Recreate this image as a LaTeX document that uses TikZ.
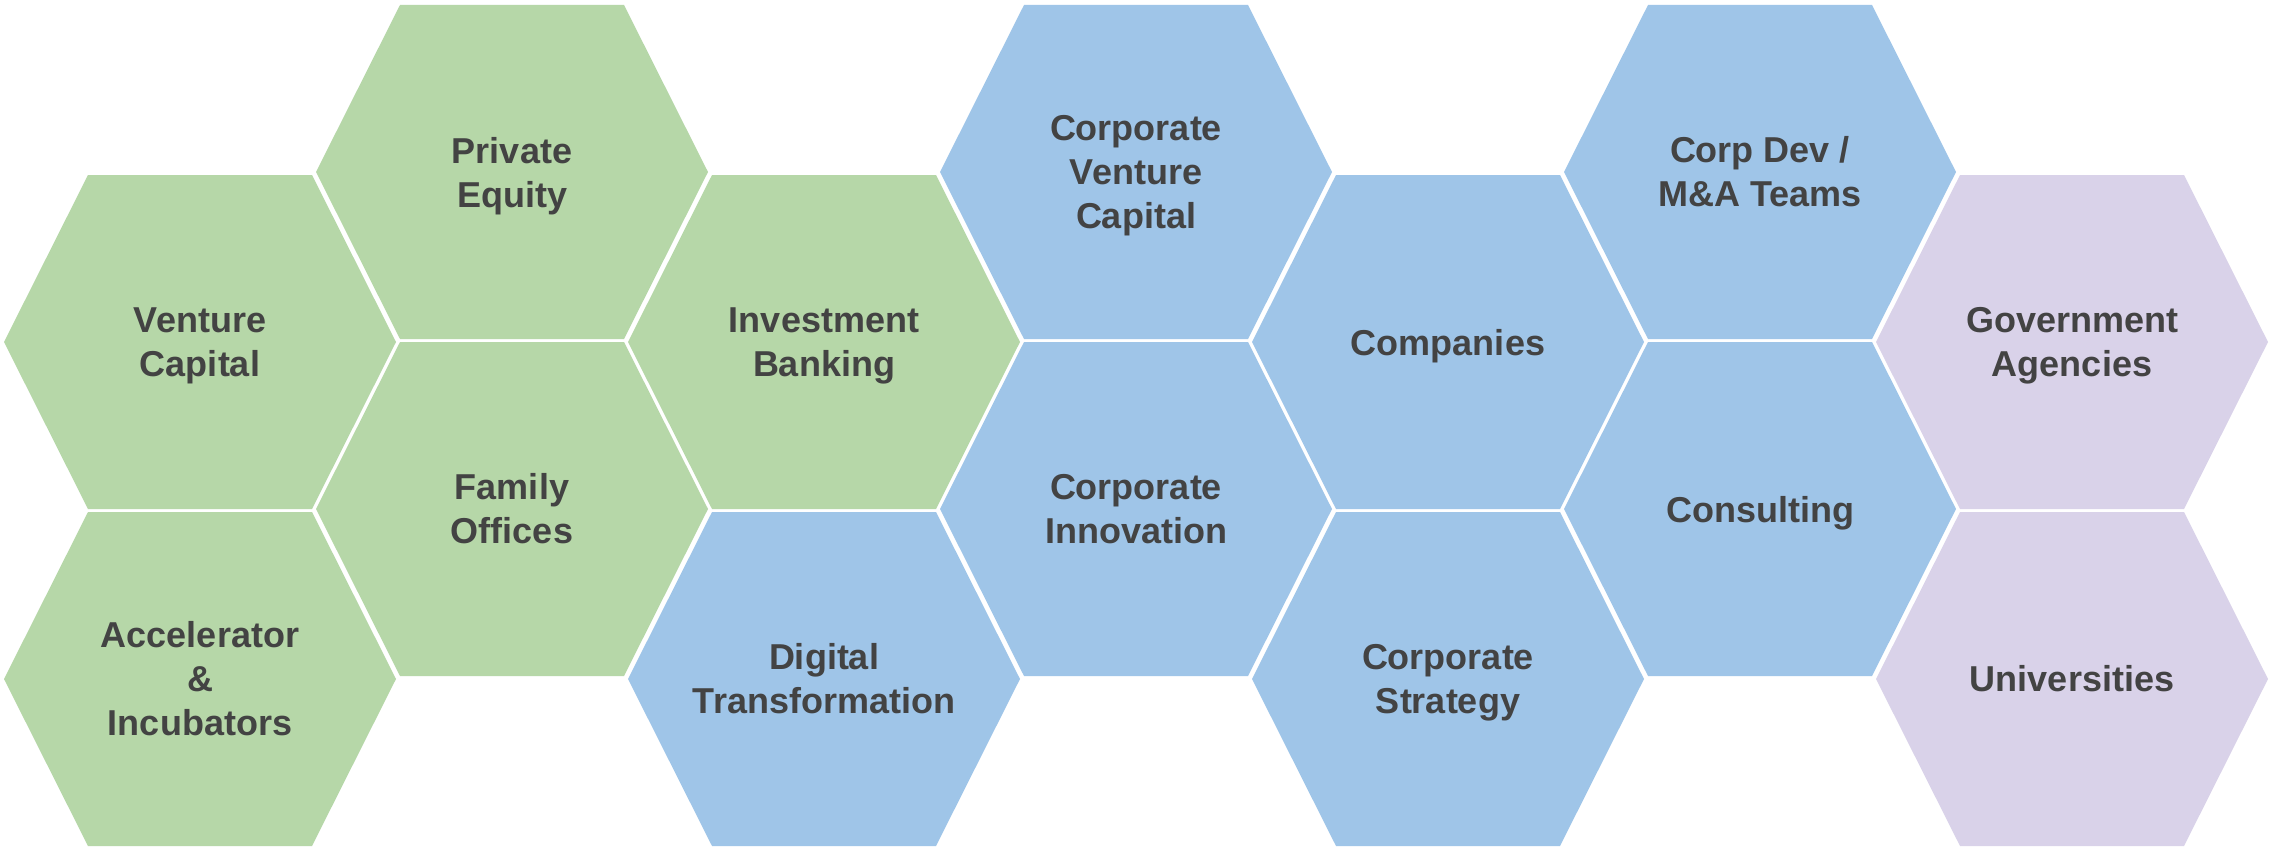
\documentclass[tikz,border=0pt]{standalone}
\usepackage{fontspec}
\setmainfont{Liberation Sans}
\definecolor{hexgreen}{HTML}{B6D7A8}
\definecolor{hexblue}{HTML}{9FC5E8}
\definecolor{hexpurple}{HTML}{D9D2E9}
\definecolor{txtgray}{HTML}{434343}
\newcommand{\hexcell}[6][]{%
  \fill[#5] (#3,#4) ++(-196,0) -- ++(84,-167) -- ++(224,0) -- ++(84,167)
    -- ++(-84,167) -- ++(-224,0) -- cycle;
  \node[lbl,#1] (#2) at (#3,#4) {#6};}
\begin{document}
\begin{tikzpicture}[x=1pt,y=-1pt,
  lbl/.style={align=center, inner sep=0pt, text=txtgray,
    font=\fontsize{36}{44}\selectfont\bfseries},
  dsc/.style={yshift=-3.8pt}]
\useasboundingbox[fill=white] (0,0) rectangle (2270,848);
% column 1
\hexcell[dsc]{vc}{200}{342}{hexgreen}{Venture\\Capital}
\hexcell{acc}{200}{679}{hexgreen}{Accelerator\\\&\\Incubators}
% column 2
\hexcell[dsc]{pe}{512}{172}{hexgreen}{Private\\Equity}
\hexcell{fo}{512}{509}{hexgreen}{Family\\Offices}
% column 3
\hexcell[dsc]{ib}{824}{342}{hexgreen}{Investment\\Banking}
\hexcell{dt}{824}{679}{hexblue}{Digital\\Transformation}
% column 4
\hexcell[dsc]{cvc}{1136}{172}{hexblue}{Corporate\\Venture\\Capital}
\hexcell{ci}{1136}{509}{hexblue}{Corporate\\Innovation}
% column 5
\hexcell[dsc]{comp}{1448}{342}{hexblue}{Companies}
\hexcell[dsc]{cs}{1448}{679}{hexblue}{Corporate\\Strategy}
% column 6
\hexcell{cd}{1760}{172}{hexblue}{Corp Dev /\\M\&A Teams}
\hexcell[dsc]{cons}{1760}{509}{hexblue}{Consulting}
% column 7
\hexcell[dsc]{gov}{2072}{342}{hexpurple}{Government\\Agencies}
\hexcell{uni}{2072}{679}{hexpurple}{Universities}
\end{tikzpicture}
\end{document}
